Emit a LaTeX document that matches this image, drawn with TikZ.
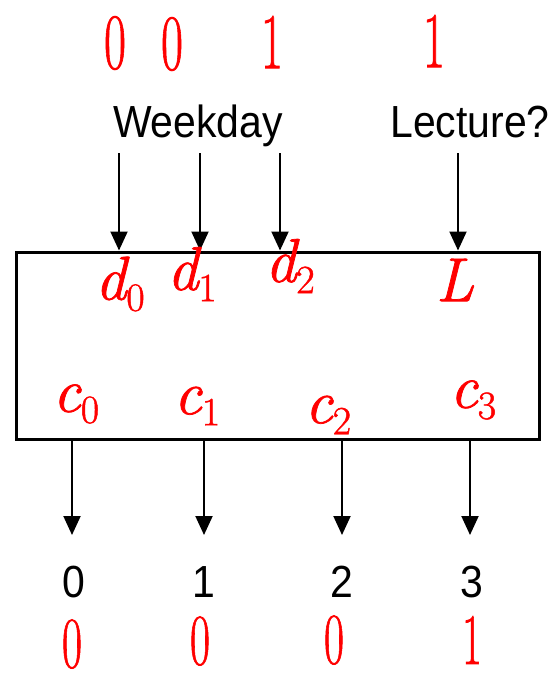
\documentclass[tikz,border=0pt]{standalone}
\usepackage{fontspec}
\setmainfont{Liberation Sans}[FakeStretch=0.91]
\newfontfamily\handfont{Latin Modern Roman}[FakeBold=1.2]
\usetikzlibrary{arrows.meta}
\newcommand\hnum[1]{\scalebox{0.66}[1.1]{#1}}
\newcommand\hsub[2]{{\itshape #1}\raisebox{-0.18em}{\fontsize{40}{40}\selectfont #2}}
\begin{document}
\begin{tikzpicture}[x=1pt,y=-1pt,
  lbl/.style={font=\fontsize{45}{45}\selectfont, inner sep=0, anchor=base},
  io/.style={line width=2pt, -{Triangle[width=17pt,length=19pt]}},
  hand/.style={text=red, inner sep=0, font=\handfont\fontsize{62}{62}\selectfont},
  handnum/.style={text=red, inner sep=0, font=\handfont\fontsize{72}{72}\selectfont},
  handlow/.style={handnum, font=\handfont\fontsize{66}{66}\selectfont}]
\useasboundingbox (0,0) rectangle (551,686);

% box
\node[draw, line width=3pt, minimum width=523pt, minimum height=187pt, inner sep=0] (box) at (278,345.5) {};

% input labels
\node[lbl] (wd) at (198,137) {Weekday};
\node[lbl] (lec) at (470,137) {Lecture?};

\coordinate (i0) at (119,153);
\coordinate (i1) at (200,153);
\coordinate (i2) at (280,153);
\coordinate (i3) at (458,153);
\draw[io] (i0) -- (i0 |- box.north);
\draw[io] (i1) -- (i1 |- box.north);
\draw[io] (i2) -- (i2 |- box.north);
\draw[io] (i3) -- (i3 |- box.north);

% outputs
\coordinate (o0) at (72,535);
\coordinate (o1) at (204,535);
\coordinate (o2) at (342,535);
\coordinate (o3) at (470,535);
\draw[io] (o0 |- box.south) -- (o0);
\draw[io] (o1 |- box.south) -- (o1);
\draw[io] (o2 |- box.south) -- (o2);
\draw[io] (o3 |- box.south) -- (o3);
\node[lbl] (n0) at (74,597) {0};
\node[lbl] (n1) at (204,597) {1};
\node[lbl] (n2) at (342,597) {2};
\node[lbl] (n3) at (472,597) {3};

% handwritten annotations
\node[handnum] (t0) at (115,43) {\hnum{0}};
\node[handnum] (t1) at (172,44) {\hnum{0}};
\node[handnum] (t2) at (272,42) {\hnum{1}};
\node[handnum] (t3) at (434,41) {\hnum{1}};

\node[hand] (hd0) at (120,284) {\hsub{d}{0}};
\node[hand] (hd1) at (192,274) {\hsub{d}{1}};
\node[hand] (hd2) at (290,266) {\hsub{d}{2}};
\node[hand] (hL) at (455,280) {\itshape L};
\node[hand] (hc0) at (76,404) {\hsub{c}{0}};
\node[hand] (hc1) at (197,406) {\hsub{c}{1}};
\node[hand] (hc2) at (328,415) {\hsub{c}{2}};
\node[hand] (hc3) at (473,400) {\hsub{c}{3}};

\node[handlow] (b0) at (72,644) {\hnum{0}};
\node[handlow] (b1) at (200,641) {\hnum{0}};
\node[handlow] (b2) at (334,640) {\hnum{0}};
\node[handlow] (b3) at (472,640) {\hnum{1}};
\end{tikzpicture}
\end{document}
